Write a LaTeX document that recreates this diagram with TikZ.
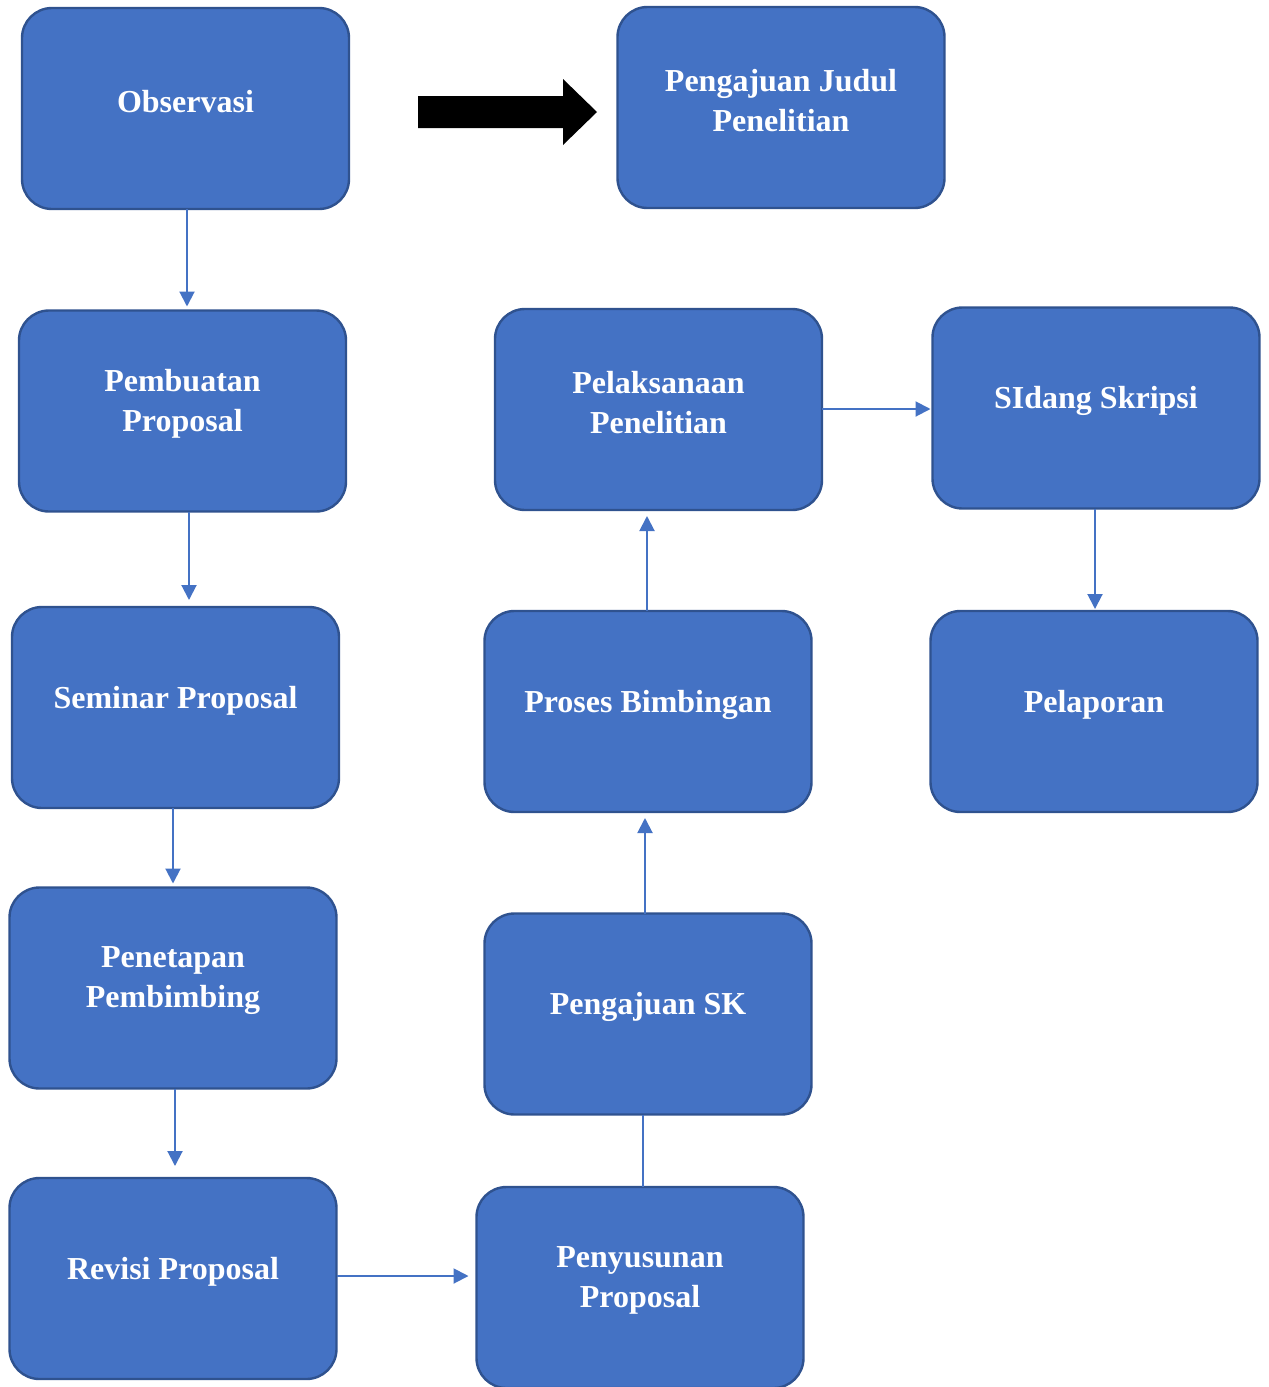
\documentclass[tikz,border=0pt]{standalone}
\usepackage{fontspec}
\setmainfont{Liberation Serif}
\usetikzlibrary{arrows.meta}
\definecolor{boxblue}{HTML}{4472C4}
\definecolor{boxedge}{HTML}{2F528F}
\tikzset{
  box/.style={draw=boxedge, line width=1.2pt, fill=boxblue, rounded corners=15pt,
    minimum width=163.5pt, minimum height=100.5pt, inner sep=0pt, outer sep=0pt},
  boxtext/.style={text=white, font=\bfseries\fontsize{16}{20}\selectfont, align=center, inner sep=0pt},
  arr/.style={draw=boxblue, line width=1pt, -{Triangle[length=7.5pt,width=7.5pt]}},
  link/.style={draw=boxblue, line width=1pt}
}
\begin{document}
\begin{tikzpicture}[x=0.5pt,y=-0.5pt]
\useasboundingbox (0,0) rectangle (1269,1387);
\begin{scope}
\clip (0,0) rectangle (1269,1387);
\node[box] (obs) at (185.5,108.5) {};
\node[box] (judul) at (781,107.5) {};
\node[box] (pemb) at (182.5,411) {};
\node[box] (pelak) at (658.5,409.5) {};
\node[box] (sidang) at (1096,408) {};
\node[box] (seminar) at (175.5,707.5) {};
\node[box] (proses) at (648,711.5) {};
\node[box] (pelap) at (1094,711.5) {};
\node[box] (penet) at (173,988) {};
\node[box] (sk) at (648,1014) {};
\node[box] (revisi) at (173,1278.5) {};
\node[box] (penyus) at (640,1287.5) {};
\end{scope}
\node[boxtext] (obs-t) at ([yshift=3.5pt]obs.center) {Observasi};
\node[boxtext] (judul-t) at ([yshift=3.5pt]judul.center) {Pengajuan Judul\\Penelitian};
\node[boxtext] (pemb-t) at ([yshift=3.5pt]pemb.center) {Pembuatan\\Proposal};
\node[boxtext] (pelak-t) at ([yshift=3.5pt]pelak.center) {Pelaksanaan\\Penelitian};
\node[boxtext] (sidang-t) at ([yshift=3.5pt]sidang.center) {SIdang Skripsi};
\node[boxtext] (seminar-t) at ([yshift=3.5pt]seminar.center) {Seminar Proposal};
\node[boxtext] (proses-t) at ([yshift=3.5pt]proses.center) {Proses Bimbingan};
\node[boxtext] (pelap-t) at ([yshift=3.5pt]pelap.center) {Pelaporan};
\node[boxtext] (penet-t) at ([yshift=3.5pt]penet.center) {Penetapan\\Pembimbing};
\node[boxtext] (sk-t) at ([yshift=3.5pt]sk.center) {Pengajuan SK};
\node[boxtext] (revisi-t) at ([yshift=3.5pt]revisi.center) {Revisi Proposal};
\node[boxtext] (penyus-t) at ([yshift=3.5pt]penyus.center) {Penyusunan\\Proposal};
% big black arrow
\fill[black] (418,96) -- (563,96) -- (563,79) -- (597,112) -- (563,145) -- (563,128) -- (418,128) -- cycle;
% connectors
\draw[arr, shorten >=2pt] ([xshift=0.75pt]obs.south) -- ([xshift=0.75pt]obs.south |- pemb.north);
\draw[arr, shorten >=3.5pt] ([xshift=3.25pt]pemb.south) -- ([xshift=3.25pt]pemb.south |- seminar.north);
\draw[arr, shorten >=2pt] ([xshift=-1.25pt]seminar.south) -- ([xshift=-1.25pt]seminar.south |- penet.north);
\draw[arr, shorten >=6pt] ([xshift=1pt]penet.south) -- ([xshift=1pt]penet.south |- revisi.north);
\draw[arr, shorten >=4pt] ([yshift=1.25pt]revisi.east) -- ([yshift=1.25pt]revisi.east -| penyus.west);
\draw[link] ([xshift=1.5pt]penyus.north) -- ([xshift=1.5pt]penyus.north |- sk.south);
\draw[arr, shorten >=3pt] ([xshift=-1.5pt]sk.north) -- ([xshift=-1.5pt]sk.north |- proses.south);
\draw[arr, shorten >=3pt] ([xshift=-0.5pt]proses.north) -- ([xshift=-0.5pt]proses.north |- pelak.south);
\draw[arr, shorten >=1pt] ([yshift=0.25pt]pelak.east) -- ([yshift=0.25pt]pelak.east -| sidang.west);
\draw[arr, shorten >=1pt] ([xshift=-0.5pt]sidang.south) -- ([xshift=-0.5pt]sidang.south |- pelap.north);
\end{tikzpicture}
\end{document}
